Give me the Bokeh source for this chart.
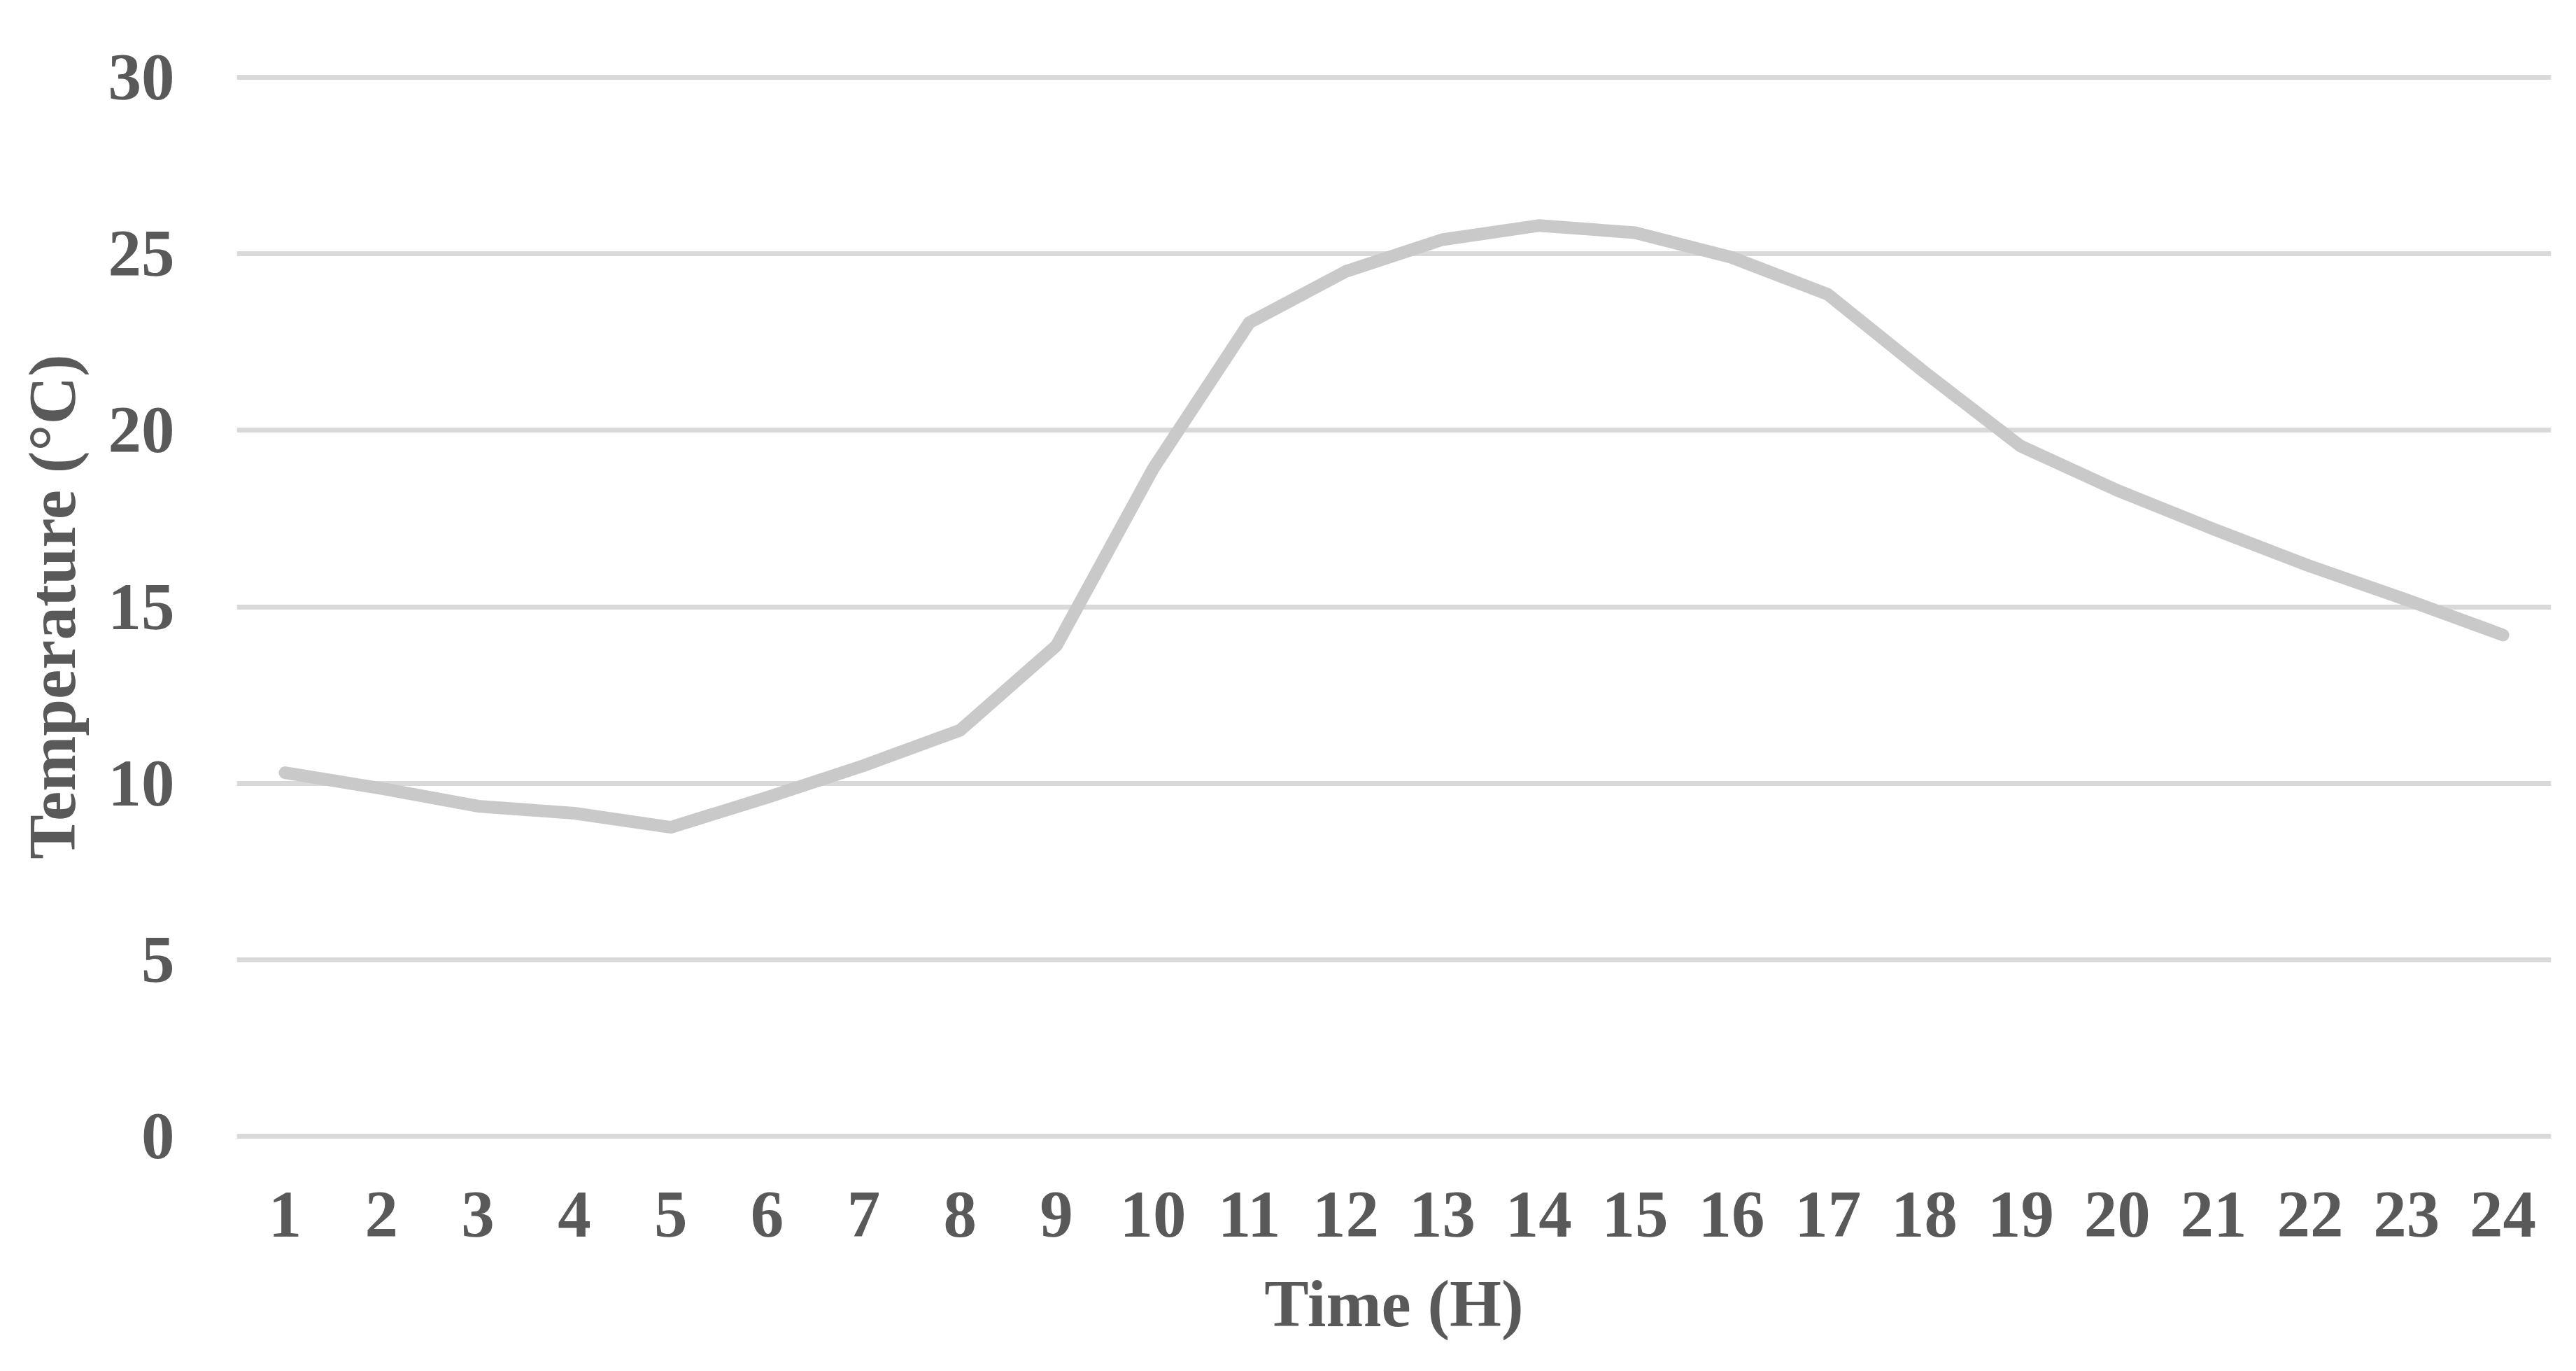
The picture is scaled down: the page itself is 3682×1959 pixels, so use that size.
from bokeh.plotting import figure
from bokeh.models import FactorRange, Range1d, FixedTicker
from bokeh.embed import file_html
from bokeh.resources import INLINE

hours = [str(h) for h in range(1, 25)]
temperature = [10.3, 9.85, 9.35, 9.15, 8.75, 9.6, 10.5, 11.5, 13.9, 18.9,
               23.05, 24.5, 25.4, 25.8, 25.6, 24.9, 23.85, 21.65, 19.55, 18.3,
               17.2, 16.15, 15.2, 14.2]
y_ticks = [0, 5, 10, 15, 20, 25, 30]

FONT = "Liberation Serif"
TXT = "#595959"

p = figure(x_range=FactorRange(*hours, range_padding=0), y_range=Range1d(-0.08, 30.08),
           width=3666, height=1943, output_backend="svg", toolbar_location=None,
           min_border_left=338, min_border_right=20, min_border_top=106,
           min_border_bottom=316)
p.outline_line_color = None
p.background_fill_color = "white"
p.border_fill_color = "white"

p.line(hours, temperature, line_color="#c9c9c9", line_width=18,
       line_cap="round", line_join="round")

p.xgrid.grid_line_color = None
p.ygrid.grid_line_color = "#d9d9d9"
p.ygrid.grid_line_width = 7
p.yaxis.ticker = FixedTicker(ticks=y_ticks)

for ax in (p.xaxis[0], p.yaxis[0]):
    ax.axis_line_color = None
    ax.major_tick_line_color = None
    ax.minor_tick_line_color = None
    ax.major_label_text_font = FONT
    ax.major_label_text_font_style = "bold"
    ax.major_label_text_font_size = "95px"
    ax.major_label_text_color = TXT
    ax.axis_label_text_font = FONT
    ax.axis_label_text_font_style = "bold"
    ax.axis_label_text_font_size = "95px"
    ax.axis_label_text_color = TXT

p.xaxis.axis_label = "Time (H)"
p.yaxis.axis_label = "Temperature (°C)"
p.xaxis.major_label_standoff = 70
p.yaxis.major_label_standoff = 83
p.xaxis.axis_label_standoff = 40
p.yaxis.axis_label_standoff = 24

open("out.html", "w").write(file_html(p, INLINE))
